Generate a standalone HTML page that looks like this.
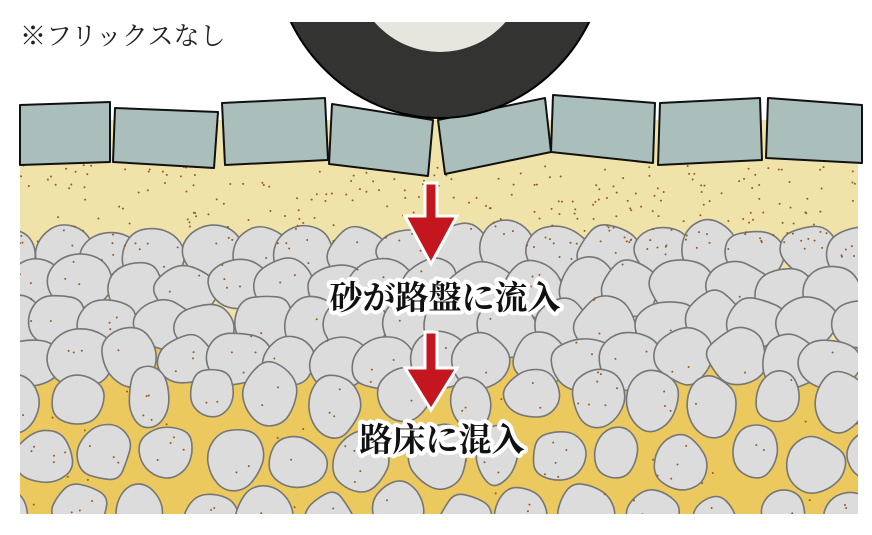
<!DOCTYPE html>
<html><head><meta charset="utf-8"><style>
html,body{margin:0;padding:0;background:#fff;}
#w{position:relative;width:872px;height:535px;overflow:hidden;}
svg{position:absolute;left:0;top:0;}
.t{font-family:"Liberation Serif","Noto Serif CJK SC",serif;font-weight:bold;fill:#111;stroke:#fff;stroke-width:8px;paint-order:stroke;stroke-linejoin:round;}
</style></head><body><div id="w">
<svg id="s" width="872" height="535" viewBox="0 0 872 535">
<defs><clipPath id="c"><rect x="20" y="0" width="838" height="514"/></clipPath></defs>
<g clip-path="url(#c)">
<rect x="20" y="120" width="838" height="394" fill="#efe3aa"/>
<path d="M20 345 Q120 330 220 350 T440 345 T650 350 T858 340 L858 514 L20 514Z" fill="#ebc95e"/>
<g id="stones"></g>
<g id="dots"></g>
</g>
<g stroke="#111" stroke-width="2" fill="#aabfbc" stroke-linejoin="round">
<polygon points="20,105 110,102 110,162 20,165"/>
<polygon points="115,108 218,112 214,168 113,162"/>
<polygon points="222,103 325,98 328,160 225,165"/>
<polygon points="332,104 433,120 428,176 329,164"/>
<polygon points="438,120 545,98 551,152 445,174"/>
<polygon points="553,95 655,103 653,163 551,152"/>
<polygon points="660,103 760,98 762,160 658,165"/>
<polygon points="768,98 862,105 862,163 766,158"/>
</g>
<clipPath id="tc"><rect x="0" y="22" width="872" height="200"/></clipPath>
<g clip-path="url(#tc)">
<ellipse cx="440" cy="-60" rx="168" ry="178" fill="#333331" stroke="#000" stroke-width="2"/>
<ellipse cx="440" cy="-38" rx="88" ry="90" fill="#e6e6df"/>
</g>
<g fill="#c4161e" stroke="#fff" stroke-width="3" stroke-linejoin="miter">
<polygon points="425,183 437,183 437,216 457,216 431,264 405,216 425,216"/>
<polygon points="425,332 437,332 437,368 457,368 431,410 405,368 425,368"/>
</g>
<text x="445" y="309" text-anchor="middle" class="t" font-size="33">砂が路盤に流入</text>
<text x="442" y="451" text-anchor="middle" class="t" font-size="33">路床に混入</text>
<text x="20" y="45" font-family="Liberation Serif,'Noto Serif CJK JP',serif" font-size="26" fill="#222">※フリックスなし</text>
</svg>
<script>
(function(){
var seed=7;function r(){seed=(seed*16807)%2147483647;return (seed-1)/2147483646;}
var ns="http://www.w3.org/2000/svg",g=document.getElementById("stones"),d=document.getElementById("dots");
function blob(cx,cy,rx,ry){var n=9,pts=[];var a0=r()*6.28;for(var i=0;i<n;i++){var a=a0+i/n*6.283,k=0.82+r()*0.22;pts.push([cx+Math.cos(a)*rx*k,cy+Math.sin(a)*ry*k]);}
var s="";for(var i=0;i<n;i++){var p=pts[i],q=pts[(i+1)%n],m=[(p[0]+q[0])/2,(p[1]+q[1])/2];if(i==0){var l=pts[n-1];s+="M"+((l[0]+p[0])/2)+" "+((l[1]+p[1])/2);}s+=" Q"+p[0].toFixed(1)+" "+p[1].toFixed(1)+" "+m[0].toFixed(1)+" "+m[1].toFixed(1);}
var e=document.createElementNS(ns,"path");e.setAttribute("d",s+"Z");e.setAttribute("fill","#dcdcdc");e.setAttribute("stroke","#767676");e.setAttribute("stroke-width","1.6");g.appendChild(e);
var nd=Math.floor(r()*4);for(var j=0;j<nd;j++){dot(cx+(r()-0.5)*rx,cy+(r()-0.5)*ry);}}
function dot(x,y){var c=document.createElementNS(ns,"circle");c.setAttribute("cx",x);c.setAttribute("cy",y);c.setAttribute("r",1);c.setAttribute("fill","#9a5a1a");d.appendChild(c);}
for(var i=0;i<260;i++){dot(20+r()*838,165+r()*85);}
for(var y=252,row=0;y<=360;y+=36,row++){for(var x=10+(row%2)*25;x<880;x+=50){blob(x+(r()-0.5)*12,y+(r()-0.5)*10,31+r()*6,27+r()*6);}}
for(var y=400,row=0;y<=530;y+=58,row++){for(var x=15+(row%2)*32;x<880;x+=64){blob(x+(r()-0.5)*18,y+(r()-0.5)*14,24+r()*9,27+r()*9);}}
for(var i=0;i<50;i++){dot(20+r()*838,380+r()*134);}
})();
</script>
</div></body></html>
